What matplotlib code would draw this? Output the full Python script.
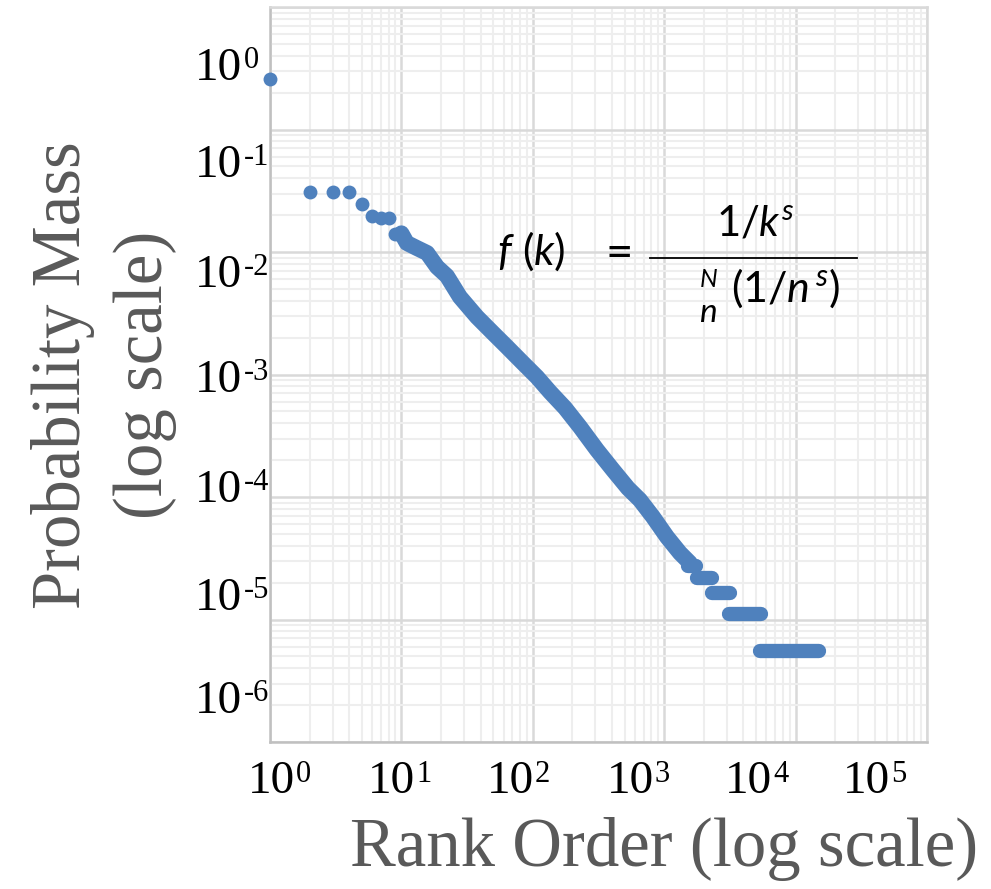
import matplotlib
matplotlib.use("Agg")
import matplotlib.pyplot as plt
import numpy as np
from matplotlib.lines import Line2D
from matplotlib.ticker import LogLocator, NullFormatter

plt.rcParams["mathtext.fontset"] = "custom"
plt.rcParams["mathtext.rm"] = "Lato"
plt.rcParams["mathtext.it"] = "Lato:italic"
plt.rcParams["mathtext.bf"] = "Lato:bold"

W, H = 991, 889
BLUE = "#4F81BD"
SERIF = "Liberation Serif"

# ---- data ----
# head: individually visible ranks
head_rank = [1, 2, 3, 4, 5, 6, 7, 8, 9, 10]
head_prob = [0.258, 0.0309, 0.0309, 0.0309, 0.0247, 0.0195, 0.0188, 0.019, 0.0140, 0.0142]

# dense body (points read along the band)
body_rank = [10.0, 11.0, 13.1, 15.7, 18.7, 22.2, 27.9, 37.6, 49.8, 63.6, 84.2, 107.6,
             135.2, 175.9, 228.7, 308, 408, 530, 654, 822, 1050, 1319, 1572]
body_prob = [0.0142, 0.01184, 0.01078, 0.00981, 0.00754, 0.00637, 0.00429, 0.00295,
             0.00218, 0.00168, 0.00124, 0.000954, 0.00072, 0.000533, 0.000373,
             0.000242, 0.000166, 0.000118, 0.0000945, 0.0000687, 0.0000472,
             0.0000349, 0.0000289]

# tail plateaus (equal probability over a rank range)
tail_start = [1517, 1777, 2311, 3113, 5358]
tail_end = [1746, 2311, 3169, 5454, 15070]
tail_prob = [2.75e-5, 2.2e-5, 1.65e-5, 1.1e-5, 5.5e-6]

x_tick_exp = ["0", "1", "2", "3", "4", "5"]
y_tick_exp = ["0", "-1", "-2", "-3", "-4", "-5", "-6"]

fig = plt.figure(figsize=(W / 100, H / 100), dpi=100)
ax = fig.add_axes([270 / W, 1 - 742 / H, 657 / W, 735 / H])
ax.set_xscale("log")
ax.set_yscale("log")
ax.set_xlim(1, 1e5)
ax.set_ylim(1e-6, 1)

for axis in (ax.xaxis, ax.yaxis):
    axis.set_major_locator(LogLocator(base=10, numticks=20))
    axis.set_minor_locator(LogLocator(base=10, subs=np.arange(2, 10), numticks=20))
    axis.set_minor_formatter(NullFormatter())
ax.grid(which="minor", color="#eeeeee", lw=1.5)
ax.grid(which="major", color="#d9d9d9", lw=1.8)
ax.set_axisbelow(True)
ax.tick_params(which="both", length=0, labelbottom=False, labelleft=False)
for side in ("left", "bottom"):
    ax.spines[side].set_color("#c0c0c0")
    ax.spines[side].set_linewidth(1.8)
for side in ("top", "right"):
    ax.spines[side].set_color("#d9d9d9")
    ax.spines[side].set_linewidth(1.8)

# data
ax.plot(body_rank, body_prob, color=BLUE, lw=11.5, solid_capstyle="round",
        solid_joinstyle="round", zorder=3)
for s, e, p in zip(tail_start, tail_end, tail_prob):
    ax.plot([s, e], [p, p], color=BLUE, lw=10.3, solid_capstyle="round", zorder=3)
ax.plot(head_rank, head_prob, "o", ms=10, color=BLUE, mec="none", clip_on=False, zorder=4)


def ptxt(x, y, s, **kw):
    return fig.text(x / W, 1 - y / H, s, **kw)


# y tick labels
y_base = [80, 177, 287, 392, 502, 610, 713]
for lab, b in zip(y_tick_exp, y_base):
    ptxt(195, b, "10", fontsize=34, family=SERIF, va="baseline", ha="left")
    ptxt(244, b - 12, lab, fontsize=22, family=SERIF, va="baseline", ha="left")

# x tick labels
x_left = [248, 368, 487, 607, 725, 843]
for lab, xl in zip(x_tick_exp, x_left):
    ptxt(xl, 793, "10", fontsize=34, family=SERIF, va="baseline", ha="left")
    ptxt(xl + 48, 782, lab, fontsize=22, family=SERIF, va="baseline", ha="left")

# axis titles
ptxt(80, 375, "Probability Mass", rotation=90, rotation_mode="anchor", ha="center",
     va="baseline", fontsize=49.5, color="#595959", family=SERIF)
ptxt(162, 375, "(log scale)", rotation=90, rotation_mode="anchor", ha="center",
     va="baseline", fontsize=49.5, color="#595959", family=SERIF)
ptxt(664, 866, "Rank Order (log scale)", ha="center", va="baseline", fontsize=49.5,
     color="#595959", family=SERIF)

# formula
ptxt(497, 265, r"$f\ (k)$", fontsize=31, va="baseline", ha="left")
ptxt(598, 265, r"$=$", fontsize=34, va="baseline", ha="left")
fig.add_artist(Line2D([650 / W, 857 / W], [1 - 258 / H, 1 - 258 / H], color="black", lw=1.3))
ptxt(755, 235, r"$1/k^{s}$", fontsize=30, va="baseline", ha="center")
ptxt(731, 302, r"$(1/n^{\,s})$", fontsize=31, va="baseline", ha="left")
ptxt(708, 287, r"$N$", fontsize=18, va="baseline", ha="center")
ptxt(708, 322, r"$n$", fontsize=24, va="baseline", ha="center")

fig.savefig("out.png", dpi=100)
